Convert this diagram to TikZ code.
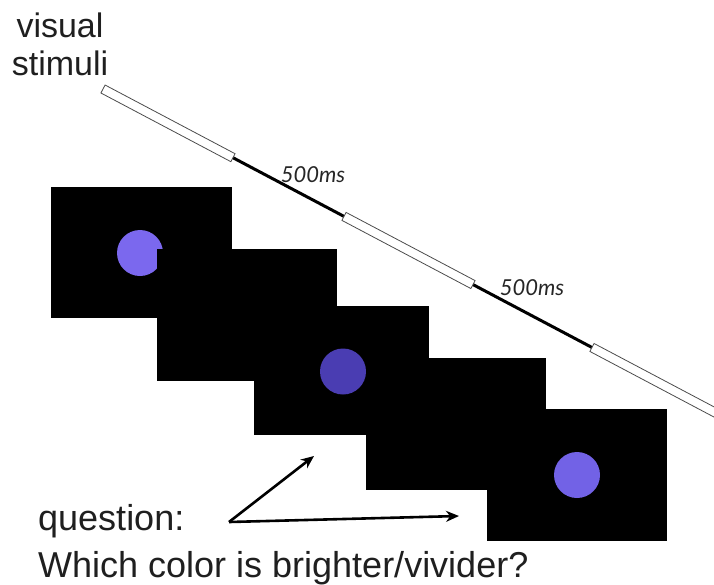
\documentclass[tikz,border=0pt]{standalone}
\usepackage{fontspec}
\setmainfont{Liberation Sans}
\newfontfamily\labfont{Lato}
\usetikzlibrary{arrows.meta}
\definecolor{dotA}{HTML}{7B68EE}
\definecolor{dotB}{HTML}{4A3DB2}
\definecolor{dotC}{HTML}{7262E6}
\tikzset{
  screen/.style={rectangle, fill=black, draw=none, inner sep=0pt},
  dot/.style={circle, inner sep=0pt, minimum size=46pt, draw=none},
  toptext/.style={font=\fontsize{34}{40}\selectfont, inner sep=0pt, text=black!88},
  bottext/.style={font=\fontsize{36}{42}\selectfont, inner sep=0pt, text=black!88},
  mslabel/.style={font=\labfont\itshape\fontsize{22}{26}\selectfont, inner sep=0pt, text=black!85},
  whitebar/.style={fill=white, draw=black!70, line width=0.8pt},
  gapline/.style={draw=black, line width=3pt},
  pointer/.style={draw=black, line width=2.6pt, -{Stealth[length=13pt,width=11pt]}}
}
\begin{document}
\begin{tikzpicture}[x=1pt,y=-1pt]
\useasboundingbox (0,0) rectangle (714,584);
% timeline
\begin{scope}[shift={(103,89)}, rotate=-27.86]
  \coordinate (t0) at (0,0);
  \coordinate (t1) at (147,0);
  \coordinate (t2) at (272.6,0);
  \coordinate (t3) at (418.5,0);
  \coordinate (t4) at (553.1,0);
  \coordinate (t5) at (720,0);
  \draw[gapline] (t1) -- (t2);
  \draw[gapline] (t3) -- (t4);
  \draw[whitebar] (0,-4.5) rectangle (147,4.5);
  \draw[whitebar] (272.6,-4.5) rectangle (418.5,4.5);
  \draw[whitebar] (553.1,-4.5) rectangle (720,4.5);
\end{scope}
\node[mslabel] (ms1) at (313,175) {500ms};
\node[mslabel] (ms2) at (532,288) {500ms};
% labels
\node[toptext, anchor=base] (vis) at (60,37) {visual};
\node[toptext, anchor=base] (stim) at (60,75) {stimuli};
% screens
\node[screen, minimum width=181pt, minimum height=131pt] (s1) at (141.5,252.5) {};
\node[dot, fill=dotA] (c1) at (140,253) {};
\node[screen, minimum width=180pt, minimum height=132pt] (s2) at (247,315) {};
\node[screen, minimum width=175pt, minimum height=129pt] (s3) at (341.5,370.5) {};
\node[dot, fill=dotB] (c2) at (343,371.5) {};
\node[screen, minimum width=180pt, minimum height=132pt] (s4) at (456,424) {};
\node[screen, minimum width=180pt, minimum height=132pt] (s5) at (577,475) {};
\node[dot, fill=dotC] (c3) at (577,475) {};
% question
\node[bottext, anchor=base west] (q) at (38,530) {question:};
\node[bottext, anchor=base west] (w) at (38,577) {Which color is brighter/vivider?};
\coordinate (qv) at (229,522);
\coordinate (qa) at (314,456);
\coordinate (qb) at (459,516);
\draw[pointer] (qv) -- (qa);
\draw[pointer] (qv) -- (qb);
\end{tikzpicture}
\end{document}
